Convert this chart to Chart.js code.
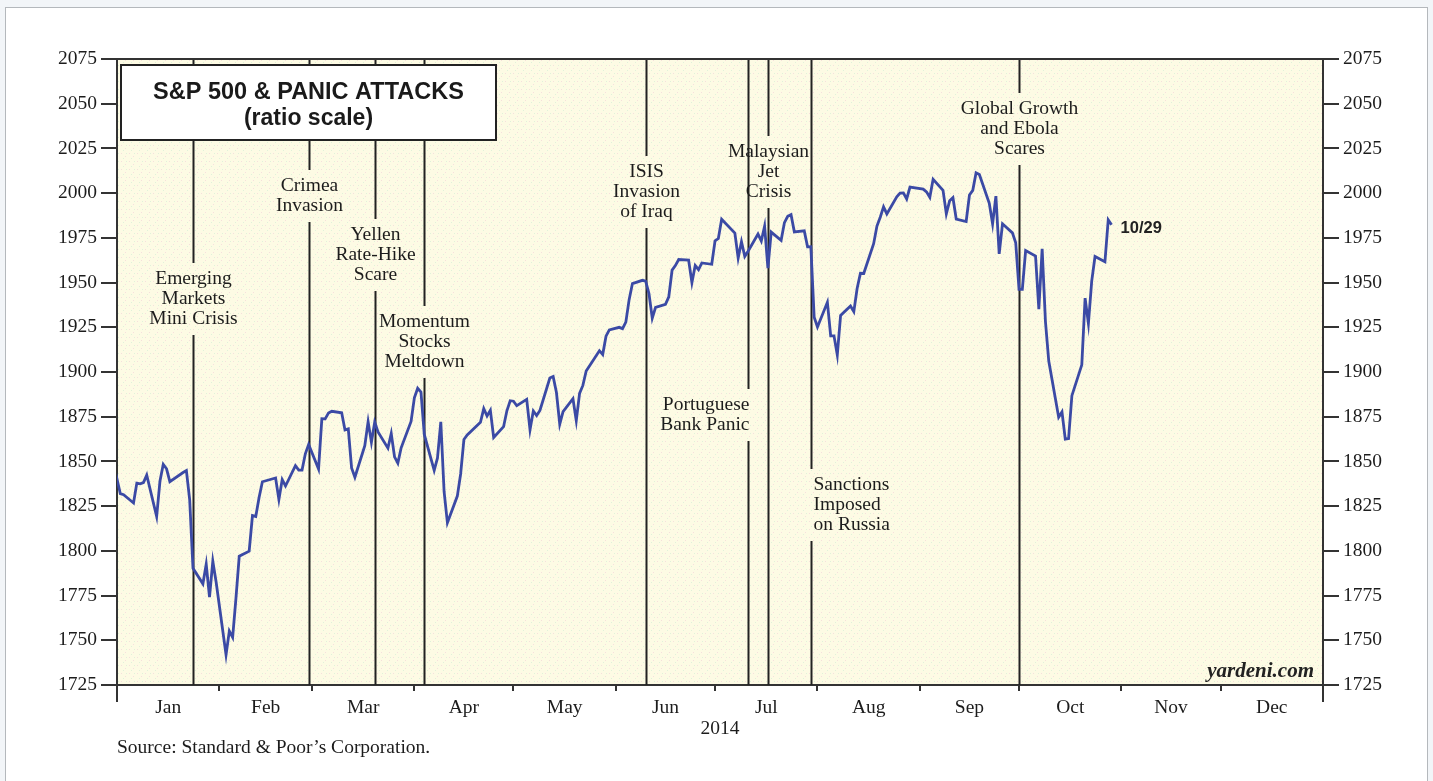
<!DOCTYPE html>
<html><head><meta charset="utf-8">
<script src="https://cdn.jsdelivr.net/npm/chart.js@4.4.1/dist/chart.umd.min.js"></script>
<style>html,body{margin:0;padding:0;background:#f2f5f8;overflow:hidden}canvas{display:block}</style>
</head><body><canvas id="c" width="1433" height="781"></canvas>
<script>
// ---------------- DATA ----------------
const tradeDates = [
'2013-12-31','2014-01-02','2014-01-03','2014-01-06','2014-01-07','2014-01-08','2014-01-09','2014-01-10','2014-01-13','2014-01-14','2014-01-15','2014-01-16','2014-01-17','2014-01-21','2014-01-22','2014-01-23','2014-01-24','2014-01-27','2014-01-28','2014-01-29','2014-01-30','2014-01-31',
'2014-02-03','2014-02-04','2014-02-05','2014-02-06','2014-02-07','2014-02-10','2014-02-11','2014-02-12','2014-02-13','2014-02-14','2014-02-18','2014-02-19','2014-02-20','2014-02-21','2014-02-24','2014-02-25','2014-02-26','2014-02-27','2014-02-28',
'2014-03-03','2014-03-04','2014-03-05','2014-03-06','2014-03-07','2014-03-10','2014-03-11','2014-03-12','2014-03-13','2014-03-14','2014-03-17','2014-03-18','2014-03-19','2014-03-20','2014-03-21','2014-03-24','2014-03-25','2014-03-26','2014-03-27','2014-03-28','2014-03-31',
'2014-04-01','2014-04-02','2014-04-03','2014-04-04','2014-04-07','2014-04-08','2014-04-09','2014-04-10','2014-04-11','2014-04-14','2014-04-15','2014-04-16','2014-04-17','2014-04-21','2014-04-22','2014-04-23','2014-04-24','2014-04-25','2014-04-28','2014-04-29','2014-04-30',
'2014-05-01','2014-05-02','2014-05-05','2014-05-06','2014-05-07','2014-05-08','2014-05-09','2014-05-12','2014-05-13','2014-05-14','2014-05-15','2014-05-16','2014-05-19','2014-05-20','2014-05-21','2014-05-22','2014-05-23','2014-05-27','2014-05-28','2014-05-29','2014-05-30',
'2014-06-02','2014-06-03','2014-06-04','2014-06-05','2014-06-06','2014-06-09','2014-06-10','2014-06-11','2014-06-12','2014-06-13','2014-06-16','2014-06-17','2014-06-18','2014-06-19','2014-06-20','2014-06-23','2014-06-24','2014-06-25','2014-06-26','2014-06-27','2014-06-30',
'2014-07-01','2014-07-02','2014-07-03','2014-07-07','2014-07-08','2014-07-09','2014-07-10','2014-07-11','2014-07-14','2014-07-15','2014-07-16','2014-07-17','2014-07-18','2014-07-21','2014-07-22','2014-07-23','2014-07-24','2014-07-25','2014-07-28','2014-07-29','2014-07-30','2014-07-31',
'2014-08-01','2014-08-04','2014-08-05','2014-08-06','2014-08-07','2014-08-08','2014-08-11','2014-08-12','2014-08-13','2014-08-14','2014-08-15','2014-08-18','2014-08-19','2014-08-20','2014-08-21','2014-08-22','2014-08-25','2014-08-26','2014-08-27','2014-08-28','2014-08-29',
'2014-09-02','2014-09-03','2014-09-04','2014-09-05','2014-09-08','2014-09-09','2014-09-10','2014-09-11','2014-09-12','2014-09-15','2014-09-16','2014-09-17','2014-09-18','2014-09-19','2014-09-22','2014-09-23','2014-09-24','2014-09-25','2014-09-26','2014-09-29','2014-09-30',
'2014-10-01','2014-10-02','2014-10-03','2014-10-06','2014-10-07','2014-10-08','2014-10-09','2014-10-10','2014-10-13','2014-10-14','2014-10-15','2014-10-16','2014-10-17','2014-10-20','2014-10-21','2014-10-22','2014-10-23','2014-10-24','2014-10-27','2014-10-28','2014-10-29'
];
const sp500Close = [
1848.36,1831.98,1831.37,1826.77,1837.88,1837.49,1838.13,1842.37,1819.20,1838.88,1848.38,1845.89,1838.70,1843.80,1844.86,1828.46,1790.29,1781.56,1792.50,1774.20,1794.19,1782.59,
1741.89,1755.20,1751.64,1773.43,1797.02,1799.84,1819.75,1819.26,1829.83,1838.63,1840.76,1828.75,1839.78,1836.25,1847.61,1845.12,1845.16,1854.29,1859.45,
1845.73,1873.91,1873.81,1877.03,1878.04,1877.17,1867.63,1868.20,1846.34,1841.13,1858.83,1872.25,1860.77,1872.01,1866.52,1857.44,1865.62,1852.56,1849.04,1857.62,1872.34,
1885.52,1890.90,1888.77,1865.09,1845.04,1851.96,1872.18,1833.08,1815.69,1830.61,1842.98,1862.31,1864.85,1871.89,1879.55,1875.39,1878.61,1863.40,1869.43,1878.33,1883.95,
1883.68,1881.14,1884.66,1867.72,1878.21,1875.63,1878.48,1896.65,1897.45,1888.53,1870.85,1877.86,1885.08,1872.83,1888.03,1892.49,1900.53,1911.91,1909.78,1920.03,1923.57,
1924.97,1924.24,1927.88,1940.46,1949.44,1951.27,1950.79,1943.89,1930.11,1936.16,1937.78,1941.99,1956.98,1959.48,1962.87,1962.61,1949.98,1959.53,1957.22,1960.96,1960.23,
1973.32,1974.62,1985.44,1977.65,1963.71,1972.83,1964.68,1967.57,1977.10,1973.28,1981.57,1958.12,1978.22,1973.63,1983.53,1987.01,1987.98,1978.34,1978.91,1969.95,1970.07,1930.67,
1925.15,1938.99,1920.21,1920.24,1909.57,1931.59,1936.92,1933.75,1946.72,1955.18,1955.06,1971.74,1981.60,1986.51,1992.37,1988.40,1997.92,2000.02,2000.12,1996.74,2003.37,
2002.28,2000.72,1997.65,2007.71,2001.54,1988.44,1995.69,1997.45,1985.54,1984.13,1998.98,2001.57,2011.36,2010.40,1994.29,1982.77,1998.30,1965.99,1982.85,1977.80,1972.29,
1946.16,1946.17,1967.90,1964.82,1935.10,1968.89,1928.21,1906.13,1874.74,1877.70,1862.49,1862.76,1886.76,1904.01,1941.28,1927.11,1950.82,1964.58,1961.63,1985.05,1982.30
];
const yTickValues = [1725,1750,1775,1800,1825,1850,1875,1900,1925,1950,1975,2000,2025,2050,2075];
const monthNames = ['Jan','Feb','Mar','Apr','May','Jun','Jul','Aug','Sep','Oct','Nov','Dec'];
const monthStarts = ['2014-01-01','2014-02-01','2014-03-01','2014-04-01','2014-05-01','2014-06-01','2014-07-01','2014-08-01','2014-09-01','2014-10-01','2014-11-01','2014-12-01','2015-01-01'];
const eventDates = ['2014-01-24','2014-02-28','2014-03-20','2014-04-04','2014-06-10','2014-07-11','2014-07-17','2014-07-30','2014-10-01'];
const eventTexts = [
  ['Emerging','Markets','Mini Crisis'],
  ['Crimea','Invasion'],
  ['Yellen','Rate-Hike','Scare'],
  ['Momentum','Stocks','Meltdown'],
  ['ISIS','Invasion','of Iraq'],
  ['Portuguese','Bank Panic'],
  ['Malaysian','Jet','Crisis'],
  ['Sanctions','Imposed','on Russia'],
  ['Global Growth','and Ebola','Scares']
];
const titleText = ['S&P 500 & PANIC ATTACKS','(ratio scale)'];
const lastLabel = '10/29';
const yearLabel = '2014';
const sourceText = "Source: Standard & Poor\u2019s Corporation.";
const brandText = 'yardeni.com';

// ---------------- LAYOUT (placement of annotation text, in axis units) ----------------
const eventLabelLevel = [1952, 2004, 1976.6, 1928, 2011.8, 1881.6, 2023, 1836.8, 2047];
const eventLabelAlign = ['center','center','center','center','center','right','center','left','center'];

// ---------------- HELPERS ----------------
const DAY = 86400000, BASE = Date.UTC(2014,0,1);
function doy(s){ const p=s.split('-').map(Number); return (Date.UTC(p[0],p[1]-1,p[2])-BASE)/DAY; }
const points = tradeDates.map((d,i)=>({x:doy(d), y:sp500Close[i]}));
const bounds = monthStarts.map(doy);
const xTicks = []; const xTickLabels = []; const xTickIsBoundary = [];
for (let m=0;m<12;m++){
  xTicks.push(bounds[m]); xTickLabels.push(''); xTickIsBoundary.push(true);
  xTicks.push((bounds[m]+bounds[m+1])/2); xTickLabels.push(monthNames[m]); xTickIsBoundary.push(false);
}
xTicks.push(bounds[12]); xTickLabels.push(''); xTickIsBoundary.push(true);

const SERIF = "'Liberation Serif','Times New Roman',serif";
const SANS = "'Liberation Sans',Arial,sans-serif";
const AXIS_COLOR = '#333';
const TEXT_COLOR = '#1c1c1c';
const FS = 19.5;

const W=1433, H=781;
const PLOT = {left:117, right:1323, top:59, bottom:685};

function makeStipple(ctx){
  const c=document.createElement('canvas'); c.width=8; c.height=8;
  const g=c.getContext('2d');
  g.fillStyle='#fdfbe4'; g.fillRect(0,0,8,8);
  g.fillStyle='rgba(240,200,215,0.55)'; g.fillRect(1,1,1,1); g.fillRect(5,4,1,1);
  g.fillStyle='rgba(200,235,210,0.55)'; g.fillRect(3,6,1,1); g.fillRect(6,1,1,1);
  return ctx.createPattern(c,'repeat');
}

const decor = {
  id:'decor',
  beforeDraw(chart){
    const ctx=chart.ctx, a=chart.chartArea;
    ctx.save();
    ctx.fillStyle='#f2f5f8'; ctx.fillRect(0,0,W,H);
    ctx.fillStyle='#ffffff'; ctx.fillRect(5.5,7.5,1422,H);
    ctx.strokeStyle='#b4b8bc'; ctx.lineWidth=1; ctx.strokeRect(5.5,7.5,1422,H);
    ctx.fillStyle=makeStipple(ctx); ctx.fillRect(a.left,a.top,a.right-a.left,a.bottom-a.top);
    ctx.restore();
  },
  beforeDatasetsDraw(chart){
    const ctx=chart.ctx, a=chart.chartArea, xs=chart.scales.x, ys=chart.scales.y;
    ctx.save();
    const lh=20, pad=6;
    ctx.font=FS+'px '+SERIF;
    eventDates.forEach((d,i)=>{
      const px=Math.round(xs.getPixelForValue(doy(d)))+0.5;
      const y0=ys.getPixelForValue(eventLabelLevel[i]);
      const lines=eventTexts[i];
      const gTop=y0-lh/2-pad, gBot=y0+(lines.length-1)*lh+lh/2+pad;
      ctx.strokeStyle='#222'; ctx.lineWidth=2;
      ctx.beginPath();
      ctx.moveTo(px,a.top); ctx.lineTo(px,gTop);
      ctx.moveTo(px,gBot); ctx.lineTo(px,a.bottom);
      ctx.stroke();
      ctx.fillStyle=TEXT_COLOR; ctx.textBaseline='middle';
      const al=eventLabelAlign[i];
      ctx.textAlign=al;
      const tx = al==='right'? px+1 : al==='left'? px+2 : px;
      lines.forEach((t,k)=>ctx.fillText(t,tx,y0+k*lh));
    });
    ctx.restore();
  },
  afterDatasetsDraw(chart){
    const ctx=chart.ctx, a=chart.chartArea, xs=chart.scales.x, ys=chart.scales.y;
    ctx.save();
    // plot frame top
    ctx.strokeStyle=AXIS_COLOR; ctx.lineWidth=2;
    ctx.beginPath(); ctx.moveTo(a.left,a.top); ctx.lineTo(a.right,a.top); ctx.stroke();
    // axis extensions below
    ctx.beginPath(); ctx.moveTo(a.left,a.bottom); ctx.lineTo(a.left,a.bottom+17);
    ctx.moveTo(a.right,a.bottom); ctx.lineTo(a.right,a.bottom+17); ctx.stroke();
    // title box
    const bx=a.left+4, by=a.top+6, bw=375, bh=75;
    ctx.fillStyle='#ffffff'; ctx.fillRect(bx,by,bw,bh);
    ctx.strokeStyle='#222'; ctx.lineWidth=2; ctx.strokeRect(bx,by,bw,bh);
    ctx.fillStyle='#1a1a1a'; ctx.textAlign='center'; ctx.textBaseline='middle';
    ctx.font='bold 23.5px '+SANS; ctx.fillText(titleText[0],bx+bw/2,by+28);
    ctx.font='bold 23px '+SANS; ctx.fillText(titleText[1],bx+bw/2,by+54);
    // last value label
    const lp=points[points.length-1];
    ctx.font='bold 16.5px '+SANS; ctx.textAlign='left'; ctx.fillStyle='#222';
    ctx.fillText(lastLabel, xs.getPixelForValue(lp.x)+9, ys.getPixelForValue(lp.y)+4);
    // brand
    ctx.font='italic bold 21px '+SERIF; ctx.textAlign='right'; ctx.textBaseline='alphabetic';
    ctx.fillText(brandText, a.right-9, a.bottom-8);
    // source
    ctx.font=FS+'px '+SERIF; ctx.textAlign='left'; ctx.textBaseline='middle'; ctx.fillStyle=TEXT_COLOR;
    ctx.fillText(sourceText, a.left, 748);
    ctx.restore();
  }
};

const yAxisCommon = {
  type:'linear', min:1725, max:2075,
  afterBuildTicks(s){ s.ticks = yTickValues.map(v=>({value:v})); },
  ticks:{ font:{family:SERIF,size:FS}, color:TEXT_COLOR, padding:4, callback:(v)=>String(v) },
  grid:{ drawOnChartArea:false, drawTicks:true, tickLength:16, color:AXIS_COLOR, tickColor:AXIS_COLOR, lineWidth:2 },
  border:{ display:true, color:AXIS_COLOR, width:2 }
};

new Chart(document.getElementById('c'), {
  type:'line',
  data:{ datasets:[{ data:points, borderColor:'#3b4aa5', borderWidth:2.8, pointRadius:0, tension:0, fill:false }] },
  options:{
    responsive:false, animation:false, devicePixelRatio:1,
    layout:{ padding:{ top:PLOT.top, left:0, right:0, bottom:0 } },
    plugins:{ legend:{display:false}, tooltip:{enabled:false}, title:{display:false} },
    scales:{
      x:{ type:'linear', min:0, max:365, position:'bottom',
          afterBuildTicks(s){ s.ticks = xTicks.map(v=>({value:v})); },
          afterFit(s){ s.height = H-PLOT.bottom; },
          ticks:{ autoSkip:false, maxRotation:0, font:{family:SERIF,size:FS}, color:TEXT_COLOR, padding:5,
                  callback:(v,i)=>xTickLabels[i] },
          grid:{ drawOnChartArea:false, drawTicks:true, tickLength:6, lineWidth:2,
                 color:(c)=> (c.index!==undefined && xTickIsBoundary[c.index]) ? AXIS_COLOR : 'rgba(0,0,0,0)',
                 tickColor:(c)=> (c.index!==undefined && xTickIsBoundary[c.index]) ? AXIS_COLOR : 'rgba(0,0,0,0)' },
          border:{ display:true, color:AXIS_COLOR, width:2 },
          title:{ display:true, text:yearLabel, font:{family:SERIF,size:FS}, color:TEXT_COLOR, padding:{top:0,bottom:40} }
      },
      y:Object.assign({}, yAxisCommon, { position:'left', afterFit(s){ s.width = PLOT.left; } }),
      y2:Object.assign({}, yAxisCommon, { position:'right', afterFit(s){ s.width = W-PLOT.right; } })
    }
  },
  plugins:[decor]
});
</script>
</body></html>
